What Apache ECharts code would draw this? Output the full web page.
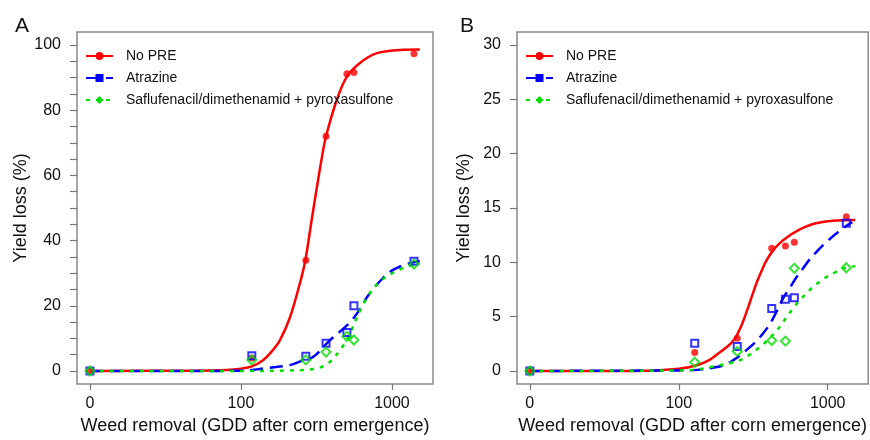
<!DOCTYPE html>
<html>
<head>
<meta charset="utf-8">
<script src="https://cdn.jsdelivr.net/npm/echarts@6/dist/echarts.min.js"></script>
<style>
  html, body { margin: 0; padding: 0; background: #fff; }
  #chart { width: 870px; height: 440px; }
</style>
</head>
<body>
<div id="chart"></div>
<script>
var seriesNames = ['No PRE', 'Atrazine', 'Saflufenacil/dimethenamid + pyroxasulfone'];
var colors = ['#ff0000', '#0000ff', '#00e000'];

// observed points (GDD after corn emergence, yield loss %)
var gddA = [0, 118, 269, 366, 503, 560, 1400];
var noPreA = [0, 4, 34, 72, 91.2, 91.6, 97.3];
var atrazineA = [0, 4.7, 4.5, 8.5, 11.8, 20, 33.7];
var safluA = [0, 3.4, 3.4, 5.8, 10.6, 9.5, 32.8];

var gddB = [0, 128, 247, 421, 520, 597, 1333];
var noPreB = [0, 1.7, 3.0, 11.3, 11.5, 11.85, 14.2];
var atrazineB = [0, 2.55, 2.25, 5.75, 6.6, 6.75, 13.6];
var safluB = [0, 0.8, 1.8, 2.8, 2.75, 9.45, 9.5];

// fitted curves: [GDD, yield loss %]
var noPreFitA = [[10, 0], [50, 0.1], [80, 0.3], [100, 0.7], [118, 1.4], [140, 3.3], [160, 6], [181, 9.4],
  [211, 16.4], [246, 27], [267, 34], [295, 46.8], [320, 57], [345, 66], [366, 72], [432, 83.3], [503, 90.3],
  [614, 94.5], [795, 97.5], [1130, 98.5], [1530, 98.6]];
var atrazineFitA = [[10, 0], [60, 0], [100, 0.1], [118, 0.3], [133, 0.6], [170, 1.2], [211, 1.8], [250, 3],
  [300, 4.3], [388, 9.4], [527, 14.9], [646, 20.5], [679, 22.5], [875, 28.6], [1017, 31], [1250, 32.8], [1530, 33.7]];
var safluFitA = [[10, 0], [100, 0], [200, 0.15], [300, 0.6], [372, 2.1], [453, 6.4], [514, 10.5],
  [646, 20.5], [793, 26.5], [970, 29.6], [1250, 32], [1530, 33]];

var noPreFitB = [[10, 0], [50, 0], [100, 0.2], [134, 0.55], [160, 1.0], [182, 1.55], [210, 2.2], [236, 2.9],
  [262, 4.1], [288, 5.6], [312, 7.0], [335, 8.2], [362, 9.3], [389, 10.2], [430, 11.1], [475, 11.75],
  [540, 12.35], [615, 12.85], [720, 13.3], [834, 13.6], [1130, 13.85], [1530, 13.9]];
var atrazineFitB = [[10, 0], [100, 0.05], [134, 0.1], [170, 0.3], [203, 0.55], [230, 0.95], [259, 1.45],
  [295, 2.1], [335, 2.8], [370, 3.5], [408, 4.3], [455, 5.5], [505, 6.75], [560, 7.7], [615, 8.6],
  [680, 9.4], [750, 10.2], [860, 11.1], [970, 11.8], [1130, 12.6], [1316, 13.3], [1462, 13.7]];
var safluFitB = [[10, 0], [100, 0.05], [141, 0.2], [191, 0.55], [225, 0.75], [259, 1.0], [300, 1.5],
  [351, 2.2], [400, 2.9], [454, 3.7], [520, 4.8], [588, 5.8], [660, 6.6], [750, 7.4], [860, 8.1],
  [970, 8.6], [1130, 9.1], [1316, 9.5], [1530, 9.65]];

var xTicks = [1, 2, 3];            // log10 of 10 (shown as 0), 100, 1000
var yTicksA = [], yLabelsA = [0, 20, 40, 60, 80, 100];
for (var t = 0; t <= 100; t += 5) yTicksA.push(t);
var yTicksB = [0, 5, 10, 15, 20, 25, 30];

// the 0 GDD point sits one decade below 100 on the log axis
function toLog(g) { return Math.log10(g === 0 ? 10 : g); }

var font = "'Liberation Sans', Arial, sans-serif";
var dashes = ['solid', [13, 7], [4, 6]];
var legendSymbols = ['circle', 'rect', 'diamond'];

function curve(i, pts, grid) {
  return {
    name: seriesNames[i], type: 'line', xAxisIndex: grid, yAxisIndex: grid,
    data: pts.map(function (p) { return [toLog(p[0]), p[1]]; }),
    smooth: 0.35, showSymbol: false, symbol: legendSymbols[i], symbolSize: 9,
    lineStyle: { color: colors[i], width: 2.5, type: dashes[i] },
    itemStyle: { color: colors[i] }, z: 2 + i, silent: true
  };
}

function points(i, gdd, vals, grid) {
  var open = i > 0;
  return {
    name: seriesNames[i], type: 'scatter', xAxisIndex: grid, yAxisIndex: grid,
    data: gdd.map(function (g, k) { return [toLog(g), vals[k]]; }),
    symbol: legendSymbols[i], symbolSize: i === 2 ? 9 : 7,
    itemStyle: open ? { color: 'rgba(255,255,255,0)', borderColor: colors[i], borderWidth: 2 } : { color: colors[i] },
    z: 6 + i, silent: true
  };
}

function xAxis(grid) {
  return {
    type: 'value', gridIndex: grid, min: 0.914, max: 3.272,
    axisLine: { show: false, onZero: false }, splitLine: { show: false },
    axisTick: { customValues: xTicks, length: 6, lineStyle: { color: '#777', width: 1.2 } },
    axisLabel: {
      customValues: xTicks, margin: 12, fontSize: 16, color: '#111', fontFamily: font,
      formatter: function (v) { return v === 1 ? '0' : String(Math.round(Math.pow(10, v))); }
    },
    name: 'Weed removal (GDD after corn emergence)', nameLocation: 'middle', nameGap: 33,
    nameTextStyle: { fontSize: 18, color: '#111', fontFamily: font }
  };
}

function yAxis(grid, min, max, ticks, labels) {
  return {
    type: 'value', gridIndex: grid, min: min, max: max,
    axisLine: { show: false, onZero: false }, splitLine: { show: false },
    axisTick: { customValues: ticks, length: 7, lineStyle: { color: '#777', width: 1.2 } },
    axisLabel: { customValues: labels, margin: 16, fontSize: 16, color: '#111', fontFamily: font },
    name: 'Yield loss (%)', nameLocation: 'middle', nameGap: 44,
    nameTextStyle: { fontSize: 18, color: '#111', fontFamily: font }
  };
}

function legend(left) {
  return {
    orient: 'vertical', left: left, top: 44, itemWidth: 27, itemHeight: 10, itemGap: 8,
    data: seriesNames, selectedMode: false,
    textStyle: { fontSize: 14, color: '#111', fontFamily: font, padding: [0, 0, 0, 8] }
  };
}

var myChart = echarts.init(document.getElementById('chart'));

var option = {
  animation: false,
  textStyle: { fontFamily: font },
  title: [
    { text: 'A', left: 10, top: 11, textStyle: { fontSize: 21, fontWeight: 'normal', color: '#111', fontFamily: font } },
    { text: 'B', left: 455, top: 11, textStyle: { fontSize: 21, fontWeight: 'normal', color: '#111', fontFamily: font } }
  ],
  legend: [legend(80), legend(520)],
  grid: [
    { left: 77, top: 32, width: 356, height: 355, show: true, borderColor: '#8a8a8a', borderWidth: 1.5 },
    { left: 517, top: 32, width: 356, height: 355, show: true, borderColor: '#8a8a8a', borderWidth: 1.5 }
  ],
  xAxis: [xAxis(0), xAxis(1)],
  yAxis: [yAxis(0, -4, 104, yTicksA, yLabelsA), yAxis(1, -1.2, 31.2, yTicksB, yTicksB)],
  series: [
    curve(0, noPreFitA, 0), curve(1, atrazineFitA, 0), curve(2, safluFitA, 0),
    curve(0, noPreFitB, 1), curve(1, atrazineFitB, 1), curve(2, safluFitB, 1),
    points(0, gddA, noPreA, 0), points(1, gddA, atrazineA, 0), points(2, gddA, safluA, 0),
    points(0, gddB, noPreB, 1), points(1, gddB, atrazineB, 1), points(2, gddB, safluB, 1)
  ]
};

myChart.setOption(option);
</script>
</body>
</html>
